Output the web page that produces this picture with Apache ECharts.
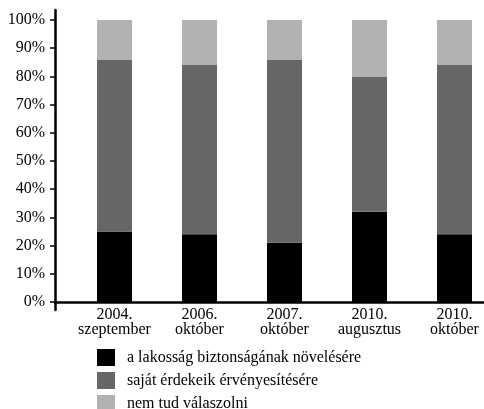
<!DOCTYPE html>
<html>
<head>
<meta charset="utf-8">
<script src="https://cdn.jsdelivr.net/npm/echarts@6/dist/echarts.min.js"></script>
<style>
  html, body { margin: 0; padding: 0; background: #fff; }
  #chart { width: 484px; height: 409px; }
</style>
</head>
<body>
<div id="chart"></div>
<script>
// kategóriák (x tengely)
const categories = ['2004.\nszeptember', '2006.\noktóber', '2007.\noktóber', '2010.\naugusztus', '2010.\noktóber']
// sorozatok (%)
const biztonsag = [25, 24, 21, 32, 24]
const erdekek = [61, 60, 65, 48, 60]
const nemTud = [14, 16, 14, 20, 16]
const yTicks = [0, 10, 20, 30, 40, 50, 60, 70, 80, 90, 100]
const seriesNames = ['a lakosság biztonságának növelésére', 'saját érdekeik érvényesítésére', 'nem tud válaszolni']

const font = 'Liberation Serif, Times New Roman, serif'
const colors = ['#000000', '#666666', '#b2b2b2']
const yMin = -2.837
const yMax = 103.546

const chart = echarts.init(document.getElementById('chart'), null, { renderer: 'canvas' })

const makeSeries = (name, vals, color) => ({
  name: name,
  type: 'bar',
  stack: 'total',
  barWidth: 35,
  xAxisIndex: 1,
  yAxisIndex: 1,
  itemStyle: { color: color },
  data: vals
})

chart.setOption({
  animation: false,
  textStyle: { fontFamily: font, color: '#000' },
  // 0: tengelyvonalak, 1: oszlopok
  grid: [
    { left: 55, right: 0, top: 10, bottom: 99, outerBoundsMode: 'none' },
    { left: 72, width: 425, top: 10, bottom: 99, outerBoundsMode: 'none' }
  ],
  xAxis: [
    {
      gridIndex: 0,
      type: 'value',
      min: 0,
      max: 1,
      splitLine: { show: false },
      axisLine: { show: true, onZero: true, lineStyle: { color: '#000', width: 2.5 } },
      axisTick: { show: false },
      axisLabel: { show: false }
    },
    {
      gridIndex: 1,
      type: 'category',
      data: categories,
      axisLine: { show: false, onZero: false },
      axisTick: { show: false },
      axisLabel: {
        interval: 0,
        fontFamily: font,
        fontSize: 16,
        lineHeight: 15,
        color: '#000',
        margin: -3
      }
    }
  ],
  yAxis: [
    {
      gridIndex: 0,
      type: 'value',
      min: yMin,
      max: yMax,
      splitLine: { show: false },
      axisLine: { show: true, onZero: false, lineStyle: { color: '#000', width: 2.5 } },
      axisTick: { show: true, customValues: yTicks, length: 5, lineStyle: { color: '#000', width: 1.5 } },
      axisLabel: {
        customValues: yTicks,
        formatter: '{value}%',
        fontFamily: font,
        fontSize: 16,
        color: '#000',
        margin: 10
      }
    },
    {
      gridIndex: 1,
      type: 'value',
      min: yMin,
      max: yMax,
      show: false
    }
  ],
  legend: {
    orient: 'vertical',
    left: 97,
    top: 349,
    height: 80,
    padding: 0,
    itemWidth: 18,
    itemHeight: 17,
    itemGap: 6,
    icon: 'rect',
    textStyle: { fontFamily: font, fontSize: 16, color: '#000', padding: [0, 0, 0, 7] },
    data: seriesNames
  },
  series: [
    makeSeries(seriesNames[0], biztonsag, colors[0]),
    makeSeries(seriesNames[1], erdekek, colors[1]),
    makeSeries(seriesNames[2], nemTud, colors[2])
  ]
})
</script>
</body>
</html>
